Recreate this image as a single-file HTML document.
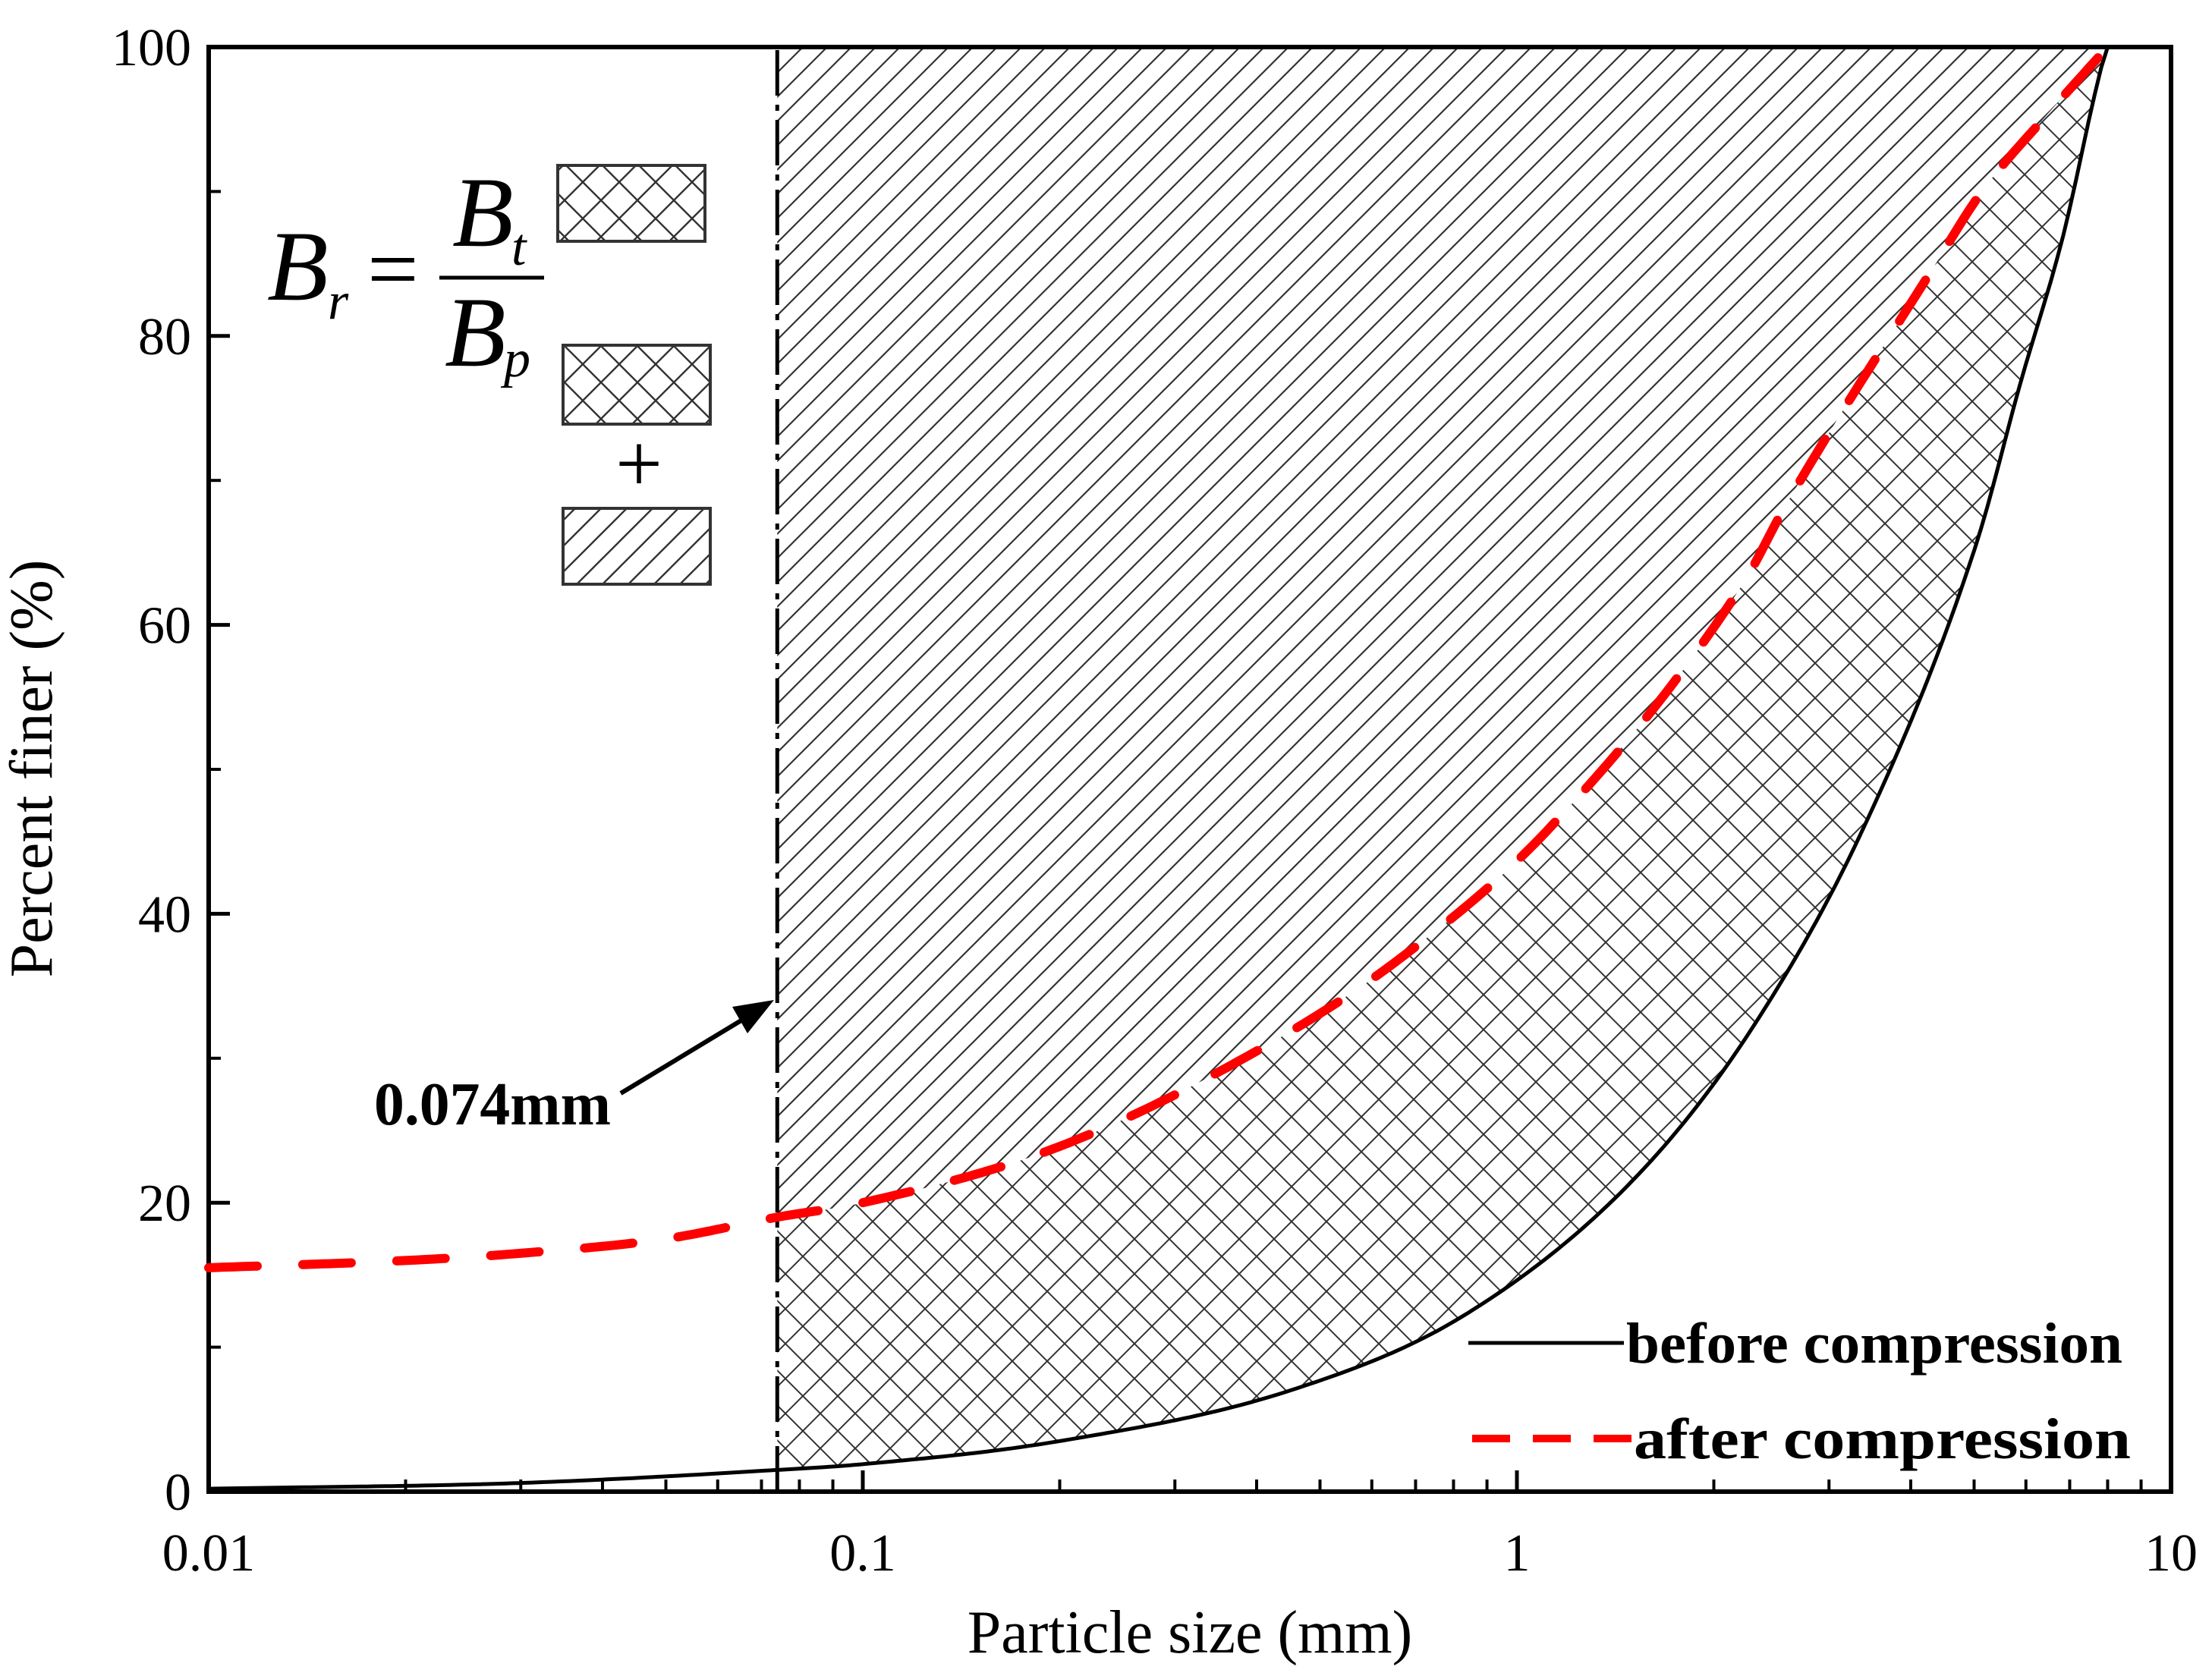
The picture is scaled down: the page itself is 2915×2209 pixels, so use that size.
<!DOCTYPE html>
<html><head><meta charset="utf-8"><style>
html,body{margin:0;padding:0;background:#fff;}
svg{display:block;}
text{font-family:"Liberation Serif",serif;}
</style></head><body>
<svg id="chart" xmlns="http://www.w3.org/2000/svg" width="2915" height="2209" viewBox="0 0 2915 2209">
<defs>
<pattern id="diag" patternUnits="userSpaceOnUse" width="32" height="32">
<path d="M-8,8 L8,-8 M0,32 L32,0 M24,40 L40,24" stroke="#333" stroke-width="2.2"/>
</pattern>
<pattern id="cross" patternUnits="userSpaceOnUse" width="46" height="46">
<path d="M0,46 L46,0 M-10,10 L10,-10 M36,56 L56,36 M0,0 L46,46 M-10,36 L10,56 M36,-10 L56,10" stroke="#333" stroke-width="2"/>
</pattern>
<pattern id="crossBox" patternUnits="userSpaceOnUse" width="48" height="48">
<path d="M0,48 L48,0 M-10,10 L10,-10 M38,58 L58,38 M0,0 L48,48 M-10,38 L10,58 M38,-10 L58,10" stroke="#333" stroke-width="2.4"/>
</pattern>
<pattern id="diagBox" patternUnits="userSpaceOnUse" width="34" height="34">
<path d="M-8,8 L8,-8 M0,34 L34,0 M26,42 L42,26" stroke="#333" stroke-width="2.4"/>
</pattern>
</defs>
<g id="fills"></g>
<g id="axes"></g>
<g id="series"></g>
</svg>
<script>
const sizesBefore = [0.01, 0.03, 0.074, 0.1, 0.2, 0.45, 0.83, 1.5, 2.26, 3.4, 5.03, 5.89, 6.82, 7.9, 8];
const finerBefore = [0.2, 0.6, 1.5, 1.9, 3.5, 7, 12.2, 21.5, 31.7, 46.1, 65.5, 76.8, 86.7, 99.3, 100];
const sizesAfter = [0.01, 0.02, 0.03, 0.05, 0.074, 0.1, 0.2, 0.4, 0.658, 1.12, 2.22, 2.57, 4.3, 5.14, 6.46, 8];
const finerAfter = [15.5, 16, 16.5, 17.5, 19, 20, 23.9, 30.5, 36.8, 45.9, 62.9, 68.2, 84.5, 90, 95.3, 100];
const xTicks = [0.01, 0.1, 1, 10];
const xTickLabels = ["0.01", "0.1", "1", "10"];
const yTicks = [0, 20, 40, 60, 80, 100];
const yTickLabels = ["0", "20", "40", "60", "80", "100"];
const cutSize = [0.074];

const NS = "http://www.w3.org/2000/svg";
const L = 275, R = 2861, T = 62, B = 1966;
const xMin = -2, xMax = 1;
function X(v){ return L + (Math.log10(v) - xMin) / (xMax - xMin) * (R - L); }
function Y(v){ return B - v / 100 * (B - T); }
function mk(tag, attrs, parent){ const e = document.createElementNS(NS, tag); for (const k in attrs) e.setAttribute(k, attrs[k]); parent.appendChild(e); return e; }

function interp(xs, ys){
  const lx = xs.map(Math.log10), n = lx.length, d = [], m = new Array(n);
  for (let i=0;i<n-1;i++) d.push((ys[i+1]-ys[i])/(lx[i+1]-lx[i]));
  m[0]=d[0]; m[n-1]=d[n-2];
  for (let i=1;i<n-1;i++) m[i] = d[i-1]*d[i] <= 0 ? 0 : (d[i-1]+d[i])/2;
  return function(x){
    const t0 = Math.log10(x);
    let i = 0; while (i < n-2 && t0 > lx[i+1]) i++;
    const h = lx[i+1]-lx[i], t = (t0-lx[i])/h;
    const h00=2*t*t*t-3*t*t+1,h10=t*t*t-2*t*t+t,h01=-2*t*t*t+3*t*t,h11=t*t*t-t*t;
    return h00*ys[i]+h10*h*m[i]+h01*ys[i+1]+h11*h*m[i+1];
  };
}
const fB = interp(sizesBefore, finerBefore), fA = interp(sizesAfter, finerAfter);
function samples(f, a, b, n){ const pts=[]; const la=Math.log10(a), lb=Math.log10(b); for(let i=0;i<=n;i++){ const x=Math.pow(10, la+(lb-la)*i/n); pts.push([X(x), Y(Math.min(100,Math.max(0,f(x))))]); } return pts; }
const fmt = p => p.map((q,i)=>(i?"L":"M")+q[0].toFixed(1)+","+q[1].toFixed(1)).join(" ");

const xEnd = sizesBefore[sizesBefore.length-1];
const fills = document.getElementById('fills');
const cut = cutSize[0];
const topPts = samples(fA, cut, sizesAfter[sizesAfter.length-1], 300);
const botPts = samples(fB, cut, xEnd, 300);
const diagArea = mk('path', {d: fmt(topPts) + " L" + X(cut) + "," + Y(100) + " Z", fill: "url(#diag)"}, fills);


const crossArea = mk('path', {d: fmt(topPts) + " " + fmt(botPts.slice().reverse()).replace(/^M/,"L") + " Z", fill: "url(#cross)"}, fills);



const axes = document.getElementById('axes');
const frame = mk('rect', {x:L, y:T, width:R-L, height:B-T, fill:"none", stroke:"#000", "stroke-width":6}, axes);


for (let i=0;i<yTicks.length;i++){
  const y = Y(yTicks[i]);
  const t = mk('line', {x1:L, x2:L+28, y1:y, y2:y, stroke:"#000", "stroke-width":5}, axes);
  
  
  const lb = mk('text', {x:252, y:y+24, "text-anchor":"end", "font-size":70}, axes);
  lb.textContent = yTickLabels[i];
  
  
  if (i < yTicks.length-1){
    const ym = Y((yTicks[i]+yTicks[i+1])/2);
    const tm = mk('line', {x1:L, x2:L+16, y1:ym, y2:ym, stroke:"#000", "stroke-width":4}, axes);
    
    
  }
}
for (let i=0;i<xTicks.length;i++){
  const x = X(xTicks[i]);
  const t = mk('line', {x1:x, x2:x, y1:B, y2:B-28, stroke:"#000", "stroke-width":5}, axes);
  
  
  const lb = mk('text', {x:x, y:2070, "text-anchor":"middle", "font-size":70}, axes);
  lb.textContent = xTickLabels[i];
  
  
  if (i < xTicks.length-1){
    for (let k=2;k<=9;k++){
      const xm = X(xTicks[i]*k);
      const tm = mk('line', {x1:xm, x2:xm, y1:B, y2:B-16, stroke:"#000", "stroke-width":4}, axes);
      
      
    }
  }
}
const xt = mk('text', {x:(L+R)/2, y:2178, "text-anchor":"middle", "font-size":80}, axes);
xt.textContent = "Particle size (mm)";


const yt = mk('text', {x:0, y:0, "text-anchor":"middle", "font-size":80, transform:"translate(68,1013) rotate(-90)"}, axes);
yt.textContent = "Percent finer (%)";



const series = document.getElementById('series');
const vl = mk('line', {x1:X(cut), x2:X(cut), y1:B, y2:T, stroke:"#000", "stroke-width":5, "stroke-dasharray":"60,12,8,12"}, series);


const lineB = mk('path', {d: fmt(samples(fB, sizesBefore[0], xEnd, 300)), fill:"none", stroke:"#000", "stroke-width":5}, series);


const lineA = mk('path', {d: fmt(samples(fA, sizesAfter[0], sizesAfter[sizesAfter.length-1], 300)), fill:"none", stroke:"#f00", "stroke-width":12, "stroke-dasharray":"64,60", "stroke-linecap":"round"}, series);


</script>
<svg style="position:absolute;left:0;top:0" width="2915" height="2209">
<g>
<line x1="818" y1="1441" x2="985" y2="1340" stroke="#000" stroke-width="6"/>
<polygon points="1020,1318 965,1327 985,1362" fill="#000"/>
</g>
<text x="493" y="1482" font-size="80" font-weight="bold" textLength="312" lengthAdjust="spacingAndGlyphs">0.074mm</text>
<g>
<line x1="1935" y1="1770" x2="2140" y2="1770" stroke="#000" stroke-width="5"/>
<text x="2143" y="1796" font-size="76" font-weight="bold" textLength="654" lengthAdjust="spacingAndGlyphs">before compression</text>
<line x1="1940" y1="1896" x2="2150" y2="1896" stroke="#f00" stroke-width="10" stroke-dasharray="50,30"/>
<text x="2153" y="1922" font-size="76" font-weight="bold" textLength="655" lengthAdjust="spacingAndGlyphs">after compression</text>
</g>
<g font-style="italic">
<text x="352" y="395" font-size="132">B</text>
<text x="432" y="420" font-size="70">r</text>
<text x="484" y="395" font-size="120" font-style="normal">=</text>
<line x1="579" y1="366" x2="717" y2="366" stroke="#000" stroke-width="5"/>
<text x="596" y="324" font-size="132">B</text>
<text x="674" y="349" font-size="70">t</text>
<text x="586" y="482" font-size="132">B</text>
<text x="664" y="496" font-size="70">p</text>
<text x="842" y="648" font-size="110" font-style="normal" text-anchor="middle">+</text>
<rect x="735" y="218" width="194" height="100" fill="url(#crossBox)" stroke="#333" stroke-width="4"/>
<rect x="742" y="455" width="194" height="104" fill="url(#crossBox)" stroke="#333" stroke-width="4"/>
<rect x="742" y="670" width="194" height="100" fill="url(#diagBox)" stroke="#333" stroke-width="4"/>
</g>
</svg>
</body></html>
